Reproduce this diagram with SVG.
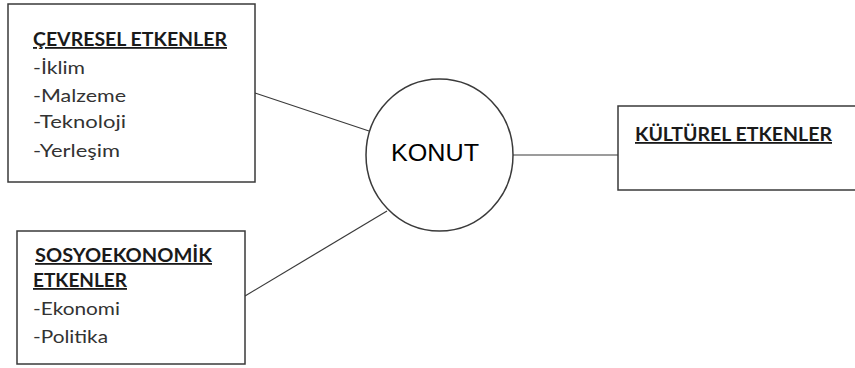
<svg xmlns="http://www.w3.org/2000/svg" width="855" height="368" viewBox="0 0 855 368">
<style>
.box{fill:#fff;stroke:#3a3a3a;stroke-width:1.5}
.conn{stroke:#3a3a3a;stroke-width:1.2;fill:none}
.title{font-family:Lato,"Liberation Sans",sans-serif;font-weight:bold;font-size:18px;fill:#1a1a1a;text-decoration:underline}
.item{font-family:Lato,"Liberation Sans",sans-serif;font-size:18px;fill:#333}
.konut{font-family:"Liberation Sans",Arial,sans-serif;font-size:24px;fill:#000}
</style>
<rect width="855" height="368" fill="#fff"/>
<g id="connectors">
<line class="conn" x1="255" y1="93" x2="369" y2="131"/>
<line class="conn" x1="245" y1="296" x2="387" y2="211"/>
<line class="conn" x1="513" y1="155" x2="618" y2="155"/>
</g>
<g id="cevresel">
<rect class="box" x="8" y="4" width="247" height="178"/>
<text class="title" x="33" y="46" textLength="194" lengthAdjust="spacingAndGlyphs">ÇEVRESEL ETKENLER</text>
<text class="item" x="33" y="74" textLength="52" lengthAdjust="spacingAndGlyphs">-İklim</text>
<text class="item" x="33" y="102" textLength="93" lengthAdjust="spacingAndGlyphs">-Malzeme</text>
<text class="item" x="33" y="128" textLength="93" lengthAdjust="spacingAndGlyphs">-Teknoloji</text>
<text class="item" x="33" y="157" textLength="87" lengthAdjust="spacingAndGlyphs">-Yerleşim</text>
</g>
<g id="sosyo">
<rect class="box" x="17" y="231" width="228" height="133"/>
<text class="title" x="35" y="262" textLength="177" lengthAdjust="spacingAndGlyphs"> SOSYOEKONOMİK</text>
<text class="title" x="33" y="287" textLength="94" lengthAdjust="spacingAndGlyphs">ETKENLER</text>
<text class="item" x="33" y="315" textLength="87" lengthAdjust="spacingAndGlyphs">-Ekonomi</text>
<text class="item" x="33" y="343" textLength="75" lengthAdjust="spacingAndGlyphs">-Politika</text>
</g>
<g id="konut">
<ellipse class="box" cx="439.5" cy="155" rx="73.5" ry="76" stroke-width="1.2"/>
<text class="konut" x="435" y="161" text-anchor="middle" textLength="88" lengthAdjust="spacingAndGlyphs">KONUT</text>
</g>
<g id="kulturel">
<rect class="box" x="618" y="106" width="245" height="84"/>
<text class="title" x="635" y="141" textLength="197" lengthAdjust="spacingAndGlyphs">KÜLTÜREL ETKENLER</text>
</g>
</svg>
